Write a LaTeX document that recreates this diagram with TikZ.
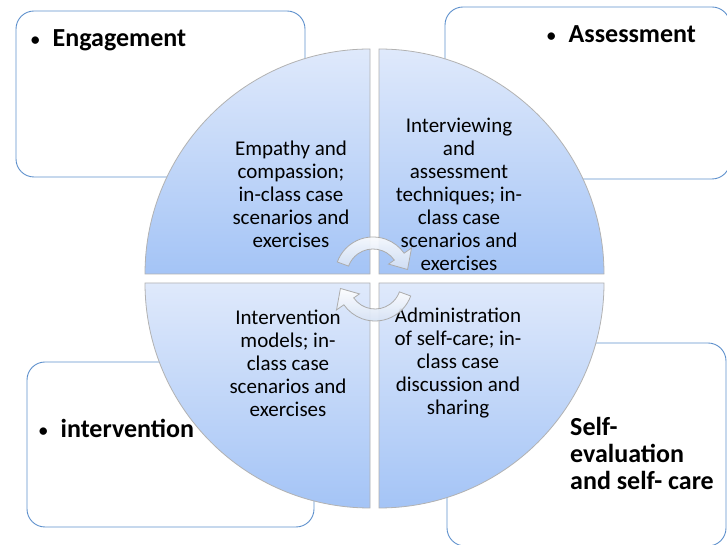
\documentclass[tikz,border=0pt]{standalone}
\usepackage{fontspec}
\setmainfont{Carlito}
\begin{document}
\begin{tikzpicture}[x=1pt, y=1pt,
    phasebox/.style={draw=boxBlue, line width=0.9pt, rounded corners=18pt},
    quadrant/.style={draw=gray!60, line width=0.8pt, top color=quadTop, bottom color=quadBot},
    quadtext/.style={font=\fontsize{21}{23}\selectfont, align=center, inner sep=0pt},
    phasetext/.style={font=\fontsize{26}{27}\selectfont\bfseries, align=left, inner sep=0pt},
    cyclearrow/.style={draw=gray!65, line width=0.8pt, top color=white, bottom color=arrowBlue, fill opacity=0.92}]
    % --- COULEURS ---
    \definecolor{boxBlue}{RGB}{95, 145, 205}
    \definecolor{quadTop}{RGB}{223, 233, 251}
    \definecolor{quadBot}{RGB}{164, 196, 246}
    \definecolor{arrowBlue}{RGB}{210, 223, 243}

    \useasboundingbox (0,0) rectangle (727,545);
    \clip (0,0) rectangle (727,545);
    \fill[white] (0,0) rectangle (727,545);

    % --- CADRES DES PHASES ---
    \draw[phasebox] (16,368) rectangle (305,534);
    \draw[phasebox] (445,366) rectangle (730,538);
    \draw[phasebox] (27,18) rectangle (314,183);
    \draw[phasebox] (447,-1) rectangle (726,202);

    % --- CERCLE EN QUATRE QUARTS ---
    \draw[quadrant] (370,271) -- (145,271) arc[start angle=180, end angle=90, radius=225] -- cycle;
    \draw[quadrant] (379,271) -- (379,496) arc[start angle=90, end angle=0, radius=225] -- cycle;
    \draw[quadrant] (370,262) -- (370,37) arc[start angle=270, end angle=180, radius=225] -- cycle;
    \draw[quadrant] (379,262) -- (604,262) arc[start angle=0, end angle=-90, radius=225] -- cycle;

    \node[quadtext] (empathy) at (291,351) {Empathy and\\compassion;\\in-class case\\scenarios and\\exercises};
    \node[quadtext] (interview) at (459,351) {Interviewing\\and\\assessment\\techniques; in-\\class case\\scenarios and\\exercises};
    \node[quadtext] (models) at (288,182) {Intervention\\models; in-\\class case\\scenarios and\\exercises};
    \node[quadtext] (admin) at (458,182) {Administration\\of self-care; in-\\class case\\discussion and\\sharing};

    % --- FLECHES CIRCULAIRES ---
    \foreach \cx/\cy/\rot in {373/270/0, 375/262/180}
        \draw[cyclearrow, shift={(\cx,\cy)}, rotate=\rot]
            (160:26) -- (160:38) arc[start angle=160, end angle=35, radius=38]
            -- (35:47) -- (9:35) -- (35:19) -- (35:26)
            arc[start angle=35, end angle=160, radius=26] -- cycle;

    % --- TITRES DES PHASES ---
    \node[phasetext, anchor=base west] (engage) at (30,498) {{\mdseries\fontsize{21}{21}\selectfont\textbullet}\hspace{12pt}Engagement};
    \node[phasetext, anchor=base west] (assess) at (546,502) {{\mdseries\fontsize{21}{21}\selectfont\textbullet}\hspace{12pt}Assessment};
    \node[phasetext, anchor=base west] (interv) at (38,107) {{\mdseries\fontsize{21}{21}\selectfont\textbullet}\hspace{12pt}intervention};
    \node[phasetext, anchor=north west] (selfeval) at (570,128) {Self-\\evaluation\\and self- care};

\end{tikzpicture}
\end{document}
